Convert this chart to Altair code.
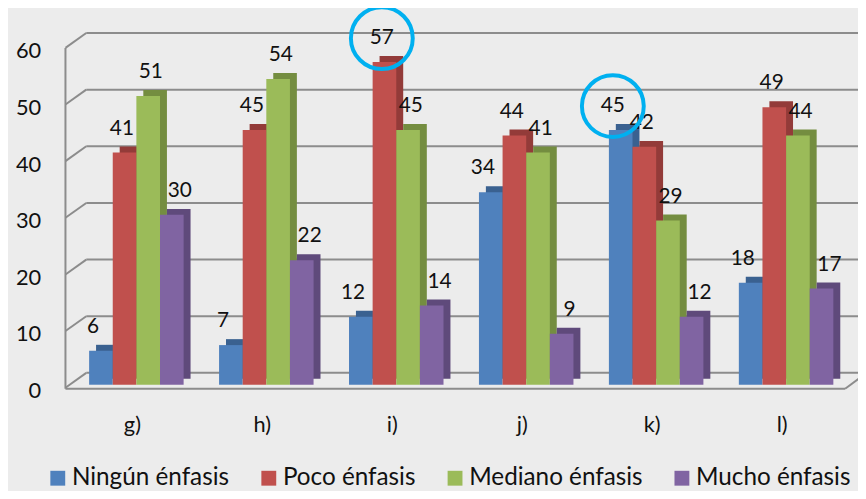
import altair as alt
import pandas as pd

categories = ["g)", "h)", "i)", "j)", "k)", "l)"]
series = ["Ningún énfasis", "Poco énfasis", "Mediano énfasis", "Mucho énfasis"]
ningun = [6, 7, 12, 34, 45, 18]
poco = [41, 45, 57, 44, 42, 49]
mediano = [51, 54, 45, 41, 29, 44]
mucho = [30, 22, 14, 9, 12, 17]
y_ticks = [0, 10, 20, 30, 40, 50, 60]
highlighted = [("i)", "Poco énfasis"), ("k)", "Ningún énfasis")]

front_colors = ["#4F81BD", "#C0504D", "#9BBB59", "#8064A2"]
side_colors = ["#3A6190", "#933B39", "#748D40", "#5F4A7B"]
grid_color = "#8C8C8C"
font = "Lato"

W, H = 787, 343
band = W / len(categories)
depth = 7

rows = []
for s, vals in zip(series, [ningun, poco, mediano, mucho]):
    for c, v in zip(categories, vals):
        rows.append({"cat": c, "series": s, "value": v})
df = pd.DataFrame(rows)
df_hi = pd.DataFrame([r for r in rows if (r["cat"], r["series"]) in highlighted])
df_grid = pd.DataFrame({"v": y_ticks})
df_frame = pd.DataFrame({"top": [max(y_ticks)], "bottom": [min(y_ticks)]})

yscale = alt.Scale(domain=[min(y_ticks), max(y_ticks)], nice=False, zero=True)
xscale = alt.Scale(domain=categories, paddingInner=0, paddingOuter=0)
xoff_scale = alt.Scale(domain=series, paddingInner=0, paddingOuter=0.75, range=[0, band])
xoff_side_scale = alt.Scale(domain=series, paddingInner=0, paddingOuter=0.75,
                            range=[depth, band + depth])

yaxis = alt.Axis(title=None, values=y_ticks, domain=False, ticks=False, tickSize=0,
                 grid=False, offset=6, labelPadding=25, labelOffset=6,
                 labelFontSize=22, labelFont=font, labelColor="#111")
xaxis = alt.Axis(title=None, domain=False, ticks=False, tickSize=0, grid=False,
                 labelAngle=0, labelPadding=40, labelBaseline="middle",
                 labelOffset=-4, labelFontSize=22, labelFont=font, labelColor="#111")

X = alt.X("cat:N", sort=categories, scale=xscale, axis=xaxis)
XO = alt.XOffset("series:N", sort=series, scale=xoff_scale)
Y = alt.Y("value:Q", scale=yscale, axis=yaxis)

back_grid = alt.Chart(df_grid).mark_rule(color=grid_color, strokeWidth=2, yOffset=-12).encode(
    y=alt.Y("v:Q", scale=yscale, axis=yaxis), x=alt.value(15), x2=alt.value(800))
connectors = alt.Chart(df_grid).mark_rule(color=grid_color, strokeWidth=2, yOffset=3, y2Offset=-12).encode(
    y=alt.Y("v:Q", scale=yscale, axis=yaxis), y2="v:Q", x=alt.value(-6), x2=alt.value(15))
front_vert = alt.Chart(df_frame).mark_rule(color=grid_color, strokeWidth=2, yOffset=3, y2Offset=4).encode(
    y=alt.Y("top:Q", scale=yscale, axis=yaxis), y2="bottom:Q", x=alt.value(-6))
floor = alt.Chart(df_frame).mark_rule(color=grid_color, strokeWidth=2, yOffset=4).encode(
    y=alt.Y("bottom:Q", scale=yscale, axis=yaxis), x=alt.value(-6), x2=alt.value(781))
floor_side = alt.Chart(df_frame).mark_rule(color=grid_color, strokeWidth=2, yOffset=4, y2Offset=-10).encode(
    y=alt.Y("bottom:Q", scale=yscale, axis=yaxis), y2="bottom:Q", x=alt.value(781), x2=alt.value(800))

sides = alt.Chart(df).mark_bar(yOffset=-6, y2Offset=-6).encode(
    x=X, xOffset=alt.XOffset("series:N", sort=series, scale=xoff_side_scale), y=Y,
    color=alt.Color("series:N", sort=series,
                    scale=alt.Scale(domain=series, range=side_colors), legend=None))

legend = alt.Legend(title=None, orient="none", legendX=-26, legendY=425, direction="horizontal",
                    columns=4, symbolType="square", symbolSize=225, symbolStrokeWidth=0,
                    symbolOpacity=1, labelFontSize=24.5, labelFont=font, labelColor="#111",
                    labelOffset=2, columnPadding=27, labelLimit=400, padding=0)
fronts = alt.Chart(df).mark_bar().encode(
    x=X, xOffset=XO, y=Y,
    color=alt.Color("series:N", sort=series,
                    scale=alt.Scale(domain=series, range=front_colors), legend=legend))

labels = alt.Chart(df).mark_text(dy=-24, fontSize=21, font=font, color="#111", baseline="middle").encode(
    x=X, xOffset=XO, y=Y, text="value:Q")

circles = alt.Chart(df_hi).mark_point(shape="circle", size=3900, strokeWidth=4, filled=False,
                                      color="#00B0F0", opacity=1, yOffset=-24, xOffset=3).encode(
    x=X, xOffset=XO, y=Y)

chart = alt.layer(back_grid, connectors, front_vert, floor, floor_side, sides, fronts, labels, circles).properties(
    width=W, height=H,
    padding={"left": 64, "top": 35, "right": 7, "bottom": 105},
    autosize=alt.AutoSizeParams(type="none"),
).resolve_scale(color="independent", xOffset="independent").configure(
    background="#ECECEC").configure_view(stroke=None)

chart.save("out.html", embed_options={"renderer": "svg", "actions": False})
